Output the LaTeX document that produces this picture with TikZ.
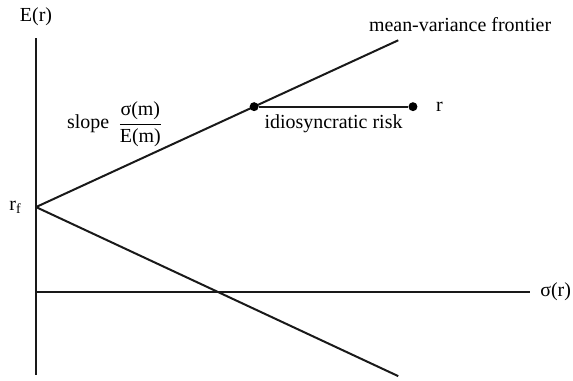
\documentclass[tikz,border=0pt]{standalone}
\usepackage{amsmath}
\usepackage{fontspec}
\setmainfont{Liberation Serif}
\usetikzlibrary{
    positioning,
    calc
}
\tikzset{
  axis/.style = {line width=1pt, black!90},
  ray/.style  = {line width=1pt, black!90},
  pt/.style   = {circle, fill=black, inner sep=0pt, minimum size=4.5pt}
}

\begin{document}
\begin{tikzpicture}[
    lbl/.style={font=\normalsize, inner sep=1pt, align=center}
  ]
    \useasboundingbox (0,0) rectangle (10.10,6.70);
    % axes
    \coordinate (ytop) at (0.635,6.03);
    \coordinate (ybot) at (0.635,0.09);
    \coordinate (xlft) at (0.635,1.55);
    \coordinate (xrgt) at (9.34,1.55);
    \draw[axis](ybot)--(ytop);
    \draw[axis](xlft)--(xrgt);
    % frontier
    \coordinate (rf)  at (0.635,3.05);
    \coordinate (mvf) at (7.02,5.99);
    \coordinate (low) at (7.02,0.07);
    \draw[ray](rf)--(mvf); \draw[ray](rf)--(low);
    \node[pt](m) at ($(rf)!0.602!(mvf)$) {};
    \node[pt](r) at ($(m)+(2.80,0)$) {};
    \draw[ray](m)--(r);
    % labels
    \node[lbl, above=5pt of ytop]{E(r)};
    \node[lbl, right=4pt of xrgt]{σ(r)};
    \node[lbl, left=6pt of rf]{r\textsubscript{f}};
    \node[lbl, right=8pt of r]{r};
    \node[lbl, below=3pt] at ($(m)!0.5!(r)$) {idiosyncratic risk};
    \node[lbl] at (8.11,6.27) {mean-variance frontier};
    \node[lbl] at (2.03,4.51) {slope\ \,$\dfrac{\textrm{σ(m)}}{\textrm{E(m)}}$};
  \end{tikzpicture}
\end{document}
